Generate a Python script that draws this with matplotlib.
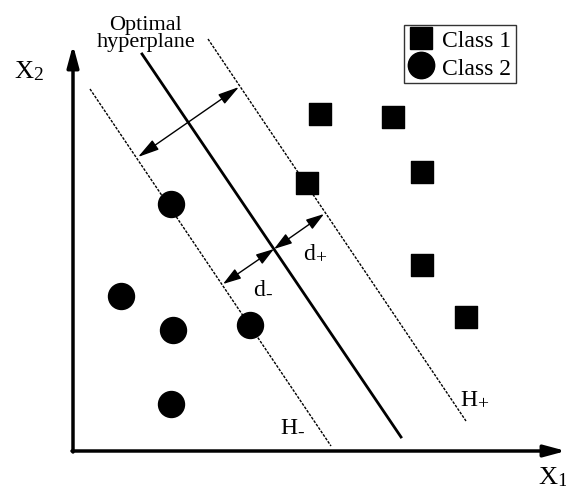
import matplotlib.pyplot as plt
from matplotlib.lines import Line2D

plt.rcParams['font.family'] = ['Liberation Serif', 'DejaVu Serif']

# Points in picture coordinates (pixels, y down)
class1_x = [320, 393, 422, 307, 422, 466]
class1_y = [115, 118, 173, 184, 266, 318]
class2_x = [171, 121, 173, 250, 171]
class2_y = [205, 297, 331, 326, 405]

# hyperplanes: (x0, y0, x1, y1)
optimal_line = (142, 55, 401, 438)
h_plus_line = (208, 40, 466, 422)
h_minus_line = (90, 90, 331, 447)

# margin arrows
margin_arrow = (138, 158, 239, 88)
d_plus_arrow = (274, 250, 324, 215)
d_minus_arrow = (223, 285, 274, 250)

fig = plt.figure(figsize=(5.66, 4.89), dpi=100)
ax = fig.add_axes([0, 0, 1, 1])
ax.set_xlim(0, 566)
ax.set_ylim(489, 0)
ax.axis('off')

# axes with arrows
ax.annotate('', xy=(73, 46), xytext=(73, 453),
            arrowprops=dict(arrowstyle='-|>,head_length=1.3,head_width=0.35',
                            lw=2.5, color='black', shrinkA=0, shrinkB=0))
ax.annotate('', xy=(566, 452), xytext=(72, 452),
            arrowprops=dict(arrowstyle='-|>,head_length=1.3,head_width=0.35',
                            lw=2.5, color='black', shrinkA=0, shrinkB=0))


def label(x, y, main, sub, size=17, subsize=12, dx=0, dy=5):
    t = ax.text(x, y, main, fontsize=size, ha='left', va='center')
    fig.canvas.draw()
    bb = t.get_window_extent()
    inv = ax.transData.inverted()
    xr = inv.transform((bb.x1, bb.y0))[0]
    ax.text(xr + dx, y + dy, sub, fontsize=subsize, ha='left', va='center')


label(14, 72, 'X', '2', size=19, subsize=14, dy=4)
label(538, 478, 'X', '1', size=19, subsize=14, dy=4)

# hyperplanes
x0, y0, x1, y1 = optimal_line
ax.plot([x0, x1], [y0, y1], color='black', lw=2)
for (x0, y0, x1, y1) in [h_plus_line, h_minus_line]:
    ax.plot([x0, x1], [y0, y1], color='black', lw=1, linestyle=(0, (2.0, 1.0)))

# double arrows
for (x0, y0, x1, y1), hl in [(margin_arrow, 1.3), (d_plus_arrow, 1.1), (d_minus_arrow, 1.1)]:
    ax.annotate('', xy=(x1, y1), xytext=(x0, y0),
                arrowprops=dict(arrowstyle=f'<|-|>,head_length={hl},head_width=0.35',
                                lw=1, color='black', shrinkA=0, shrinkB=0))

# points
ax.scatter(class1_x, class1_y, marker='s', s=250, color='black', zorder=3)
ax.scatter(class2_x, class2_y, marker='o', s=350, color='black', zorder=3)

# labels
ax.text(146, 34, 'Optimal\nhyperplane', fontsize=16, ha='center', va='center',
        linespacing=0.85)
label(303, 255, 'd', '+', size=17, subsize=14, dy=4)
label(253, 290, 'd', '-', size=17, subsize=14, dy=5)
label(460, 401, 'H', '+', size=17, subsize=14, dy=4)
label(280, 428, 'H', '-', size=17, subsize=14, dy=5)

# legend
handles = [Line2D([], [], marker='s', color='black', linestyle='none', markersize=16),
           Line2D([], [], marker='o', color='black', linestyle='none', markersize=19)]
leg = ax.legend(handles, ['Class 1', 'Class 2'], loc='upper left',
                bbox_to_anchor=(404 / 566, 1 - 26 / 489), fontsize=17,
                frameon=True, fancybox=False, edgecolor='black',
                handlelength=1.0, handletextpad=0.4, borderpad=0.2,
                labelspacing=0.25, borderaxespad=0)
leg.get_frame().set_linewidth(1)

fig.savefig('out.png', dpi=100)
